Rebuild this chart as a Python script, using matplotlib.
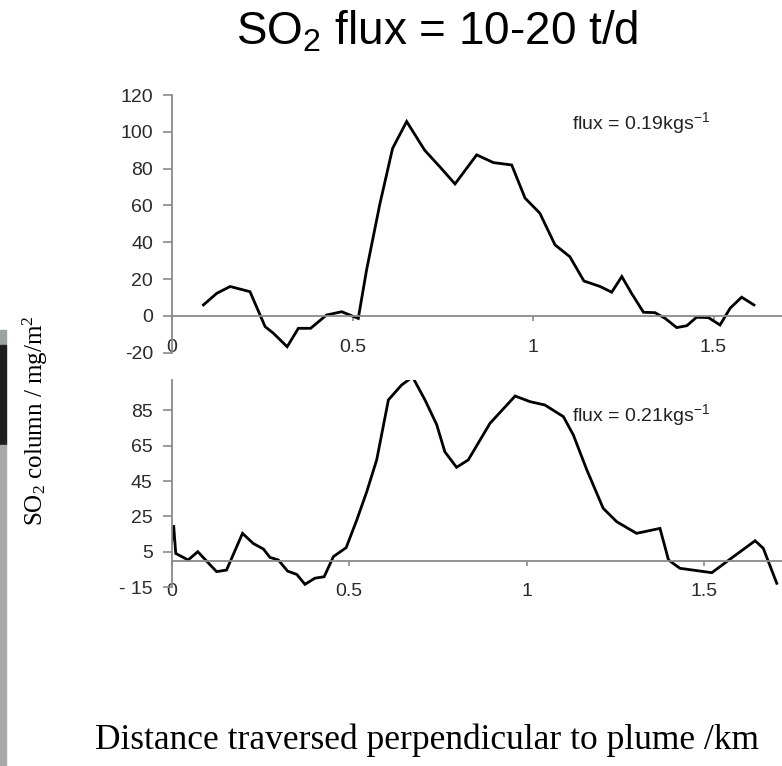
import numpy as np
import matplotlib
matplotlib.use("Agg")
import matplotlib.pyplot as plt
from matplotlib.patches import Rectangle

plt.rcParams['mathtext.default'] = 'regular'
plt.rcParams['axes.unicode_minus'] = False

# upper traverse
top_km = [0.087, 0.124, 0.161, 0.216, 0.258, 0.281, 0.319, 0.35, 0.384, 0.428, 0.47, 0.516,
          0.539, 0.576, 0.611, 0.65, 0.70, 0.742, 0.784, 0.844, 0.89, 0.941, 0.978, 1.019,
          1.061, 1.102, 1.141, 1.186, 1.218, 1.246, 1.273, 1.306, 1.338, 1.366, 1.398, 1.426,
          1.453, 1.486, 1.518, 1.546, 1.578, 1.612]
top_so2 = [6, 12.3, 16, 13.2, -5.8, -9.4, -16.7, -6.7, -6.7, 0.5, 2.3, -1.3,
           25, 61, 91, 105.6, 90, 81, 71.7, 87.5, 83.3, 82, 64, 55.8,
           38.6, 32.2, 19, 16, 12.9, 21.4, 12.3, 2, 1.8, -1.3, -6.3, -5.3,
           -0.7, -0.9, -4.9, 4.2, 10.2, 6]
top_yticks = [-20, 0, 20, 40, 60, 80, 100, 120]

# lower traverse
bot_km = [0.0, 0.006, 0.012, 0.047, 0.074, 0.127, 0.155, 0.2, 0.23, 0.259, 0.277, 0.301,
          0.327, 0.353, 0.376, 0.404, 0.43, 0.456, 0.492, 0.522, 0.55, 0.578, 0.611, 0.648,
          0.679, 0.714, 0.747, 0.77, 0.803, 0.836, 0.897, 0.968, 1.01, 1.052, 1.104, 1.132,
          1.17, 1.216, 1.254, 1.31, 1.376, 1.4, 1.432, 1.522, 1.583, 1.644, 1.667, 1.705]
bot_so2 = [10, 20, 4, 0.3, 5, -6.3, -5.4, 15.4, 9.7, 6.5, 1.8, 0.3,
           -6, -7.9, -13.5, -10, -9.2, 2.2, 7.3, 23, 39, 57, 91, 99.4,
           104, 91, 77, 61.6, 52.8, 57, 77.7, 93.2, 90, 88.1, 81.5, 71.1,
           51.3, 29.6, 22, 15.4, 18.2, 0.3, -4.4, -6.9, 2.2, 11.2, 6.9, -12.9]
bot_yticks = [-15, 5, 25, 45, 65, 85]
bot_yticklabels = ['- 15', '5', '25', '45', '65', '85']

xticks = [0, 0.5, 1, 1.5]
xticklabels = ['0', '0.5', '1', '1.5']

W, H = 782, 766
fig = plt.figure(figsize=(W / 100, H / 100), dpi=100)


def style_axes(ax, ymin, ymax):
	grey = '#8a8a8a'
	ax.spines['top'].set_visible(False)
	ax.spines['right'].set_visible(False)
	ax.spines['bottom'].set_position(('data', 0))
	ax.spines['left'].set_bounds(ymin, ymax)
	for s in ['left', 'bottom']:
		ax.spines[s].set_color(grey)
		ax.spines[s].set_linewidth(1.3)
	ax.set_xticks(xticks)
	ax.set_xticklabels(xticklabels)
	ax.tick_params(axis='y', direction='out', length=6.5, width=1.2, color=grey, pad=7,
	               labelsize=14, labelcolor='#2a2a2a')
	ax.tick_params(axis='x', direction='out', length=3.5, width=1.2, color=grey, pad=13,
	               labelsize=14, labelcolor='#2a2a2a')
	for lab in ax.get_xticklabels() + ax.get_yticklabels():
		lab.set_family('Liberation Sans')
	ax.patch.set_alpha(0)


# top panel
ax1 = fig.add_axes([172 / W, 1 - 352.8 / H, 610 / W, (352.8 - 95) / H])
ax1.plot(top_km, top_so2, color='black', lw=2.0, solid_joinstyle='miter')
ax1.set_xlim(0, 610 / 361)
ax1.set_ylim(-20, 120)
ax1.set_yticks(top_yticks)
style_axes(ax1, -20, 120)

# bottom panel
ax2 = fig.add_axes([171.5 / W, 1 - 587 / H, 610.5 / W, (587 - 379.6) / H])
ax2.plot(bot_km, bot_so2, color='black', lw=2.0, solid_joinstyle='miter')
ax2.set_xlim(0, 610.5 / 355)
ax2.set_ylim(-15, 102.5)
ax2.set_yticks(bot_yticks)
ax2.set_yticklabels(bot_yticklabels)
style_axes(ax2, -15, 102.5)

# annotations
fig.text(572 / W, 1 - 123 / H, 'flux = 0.19kgs$^{-1}$', fontsize=14, family='Liberation Sans',
         ha='left', va='center', color='#222222')
fig.text(572 / W, 1 - 415 / H, 'flux = 0.21kgs$^{-1}$', fontsize=14, family='Liberation Sans',
         ha='left', va='center', color='#222222')

fig.text(437 / W, 1 - 32 / H, 'SO$_2$ flux = 10-20 t/d', fontsize=33, family='Liberation Sans',
         ha='center', va='center')
fig.text(35 / W, 1 - 421 / H, 'SO$_2$ column / mg/m$^2$', fontsize=18, family='Liberation Serif',
         rotation=90, ha='center', va='center')
fig.text(427 / W, 1 - 740 / H, 'Distance traversed perpendicular to plume /km', fontsize=25.5,
         family='Liberation Serif', ha='center', va='center')

# strip at the left edge of the slide
fig.patches.append(Rectangle((0, 1 - 345 / H), 6 / W, 15 / H, transform=fig.transFigure,
                             color='#9aa39e', zorder=0))
fig.patches.append(Rectangle((0, 1 - 445 / H), 6 / W, 100 / H, transform=fig.transFigure,
                             color='#1e1e1e', zorder=0))
fig.patches.append(Rectangle((0, 0), 6 / W, 1 - 445 / H, transform=fig.transFigure,
                             color='#a8a8a8', zorder=0))

fig.savefig('out.png', dpi=100)
